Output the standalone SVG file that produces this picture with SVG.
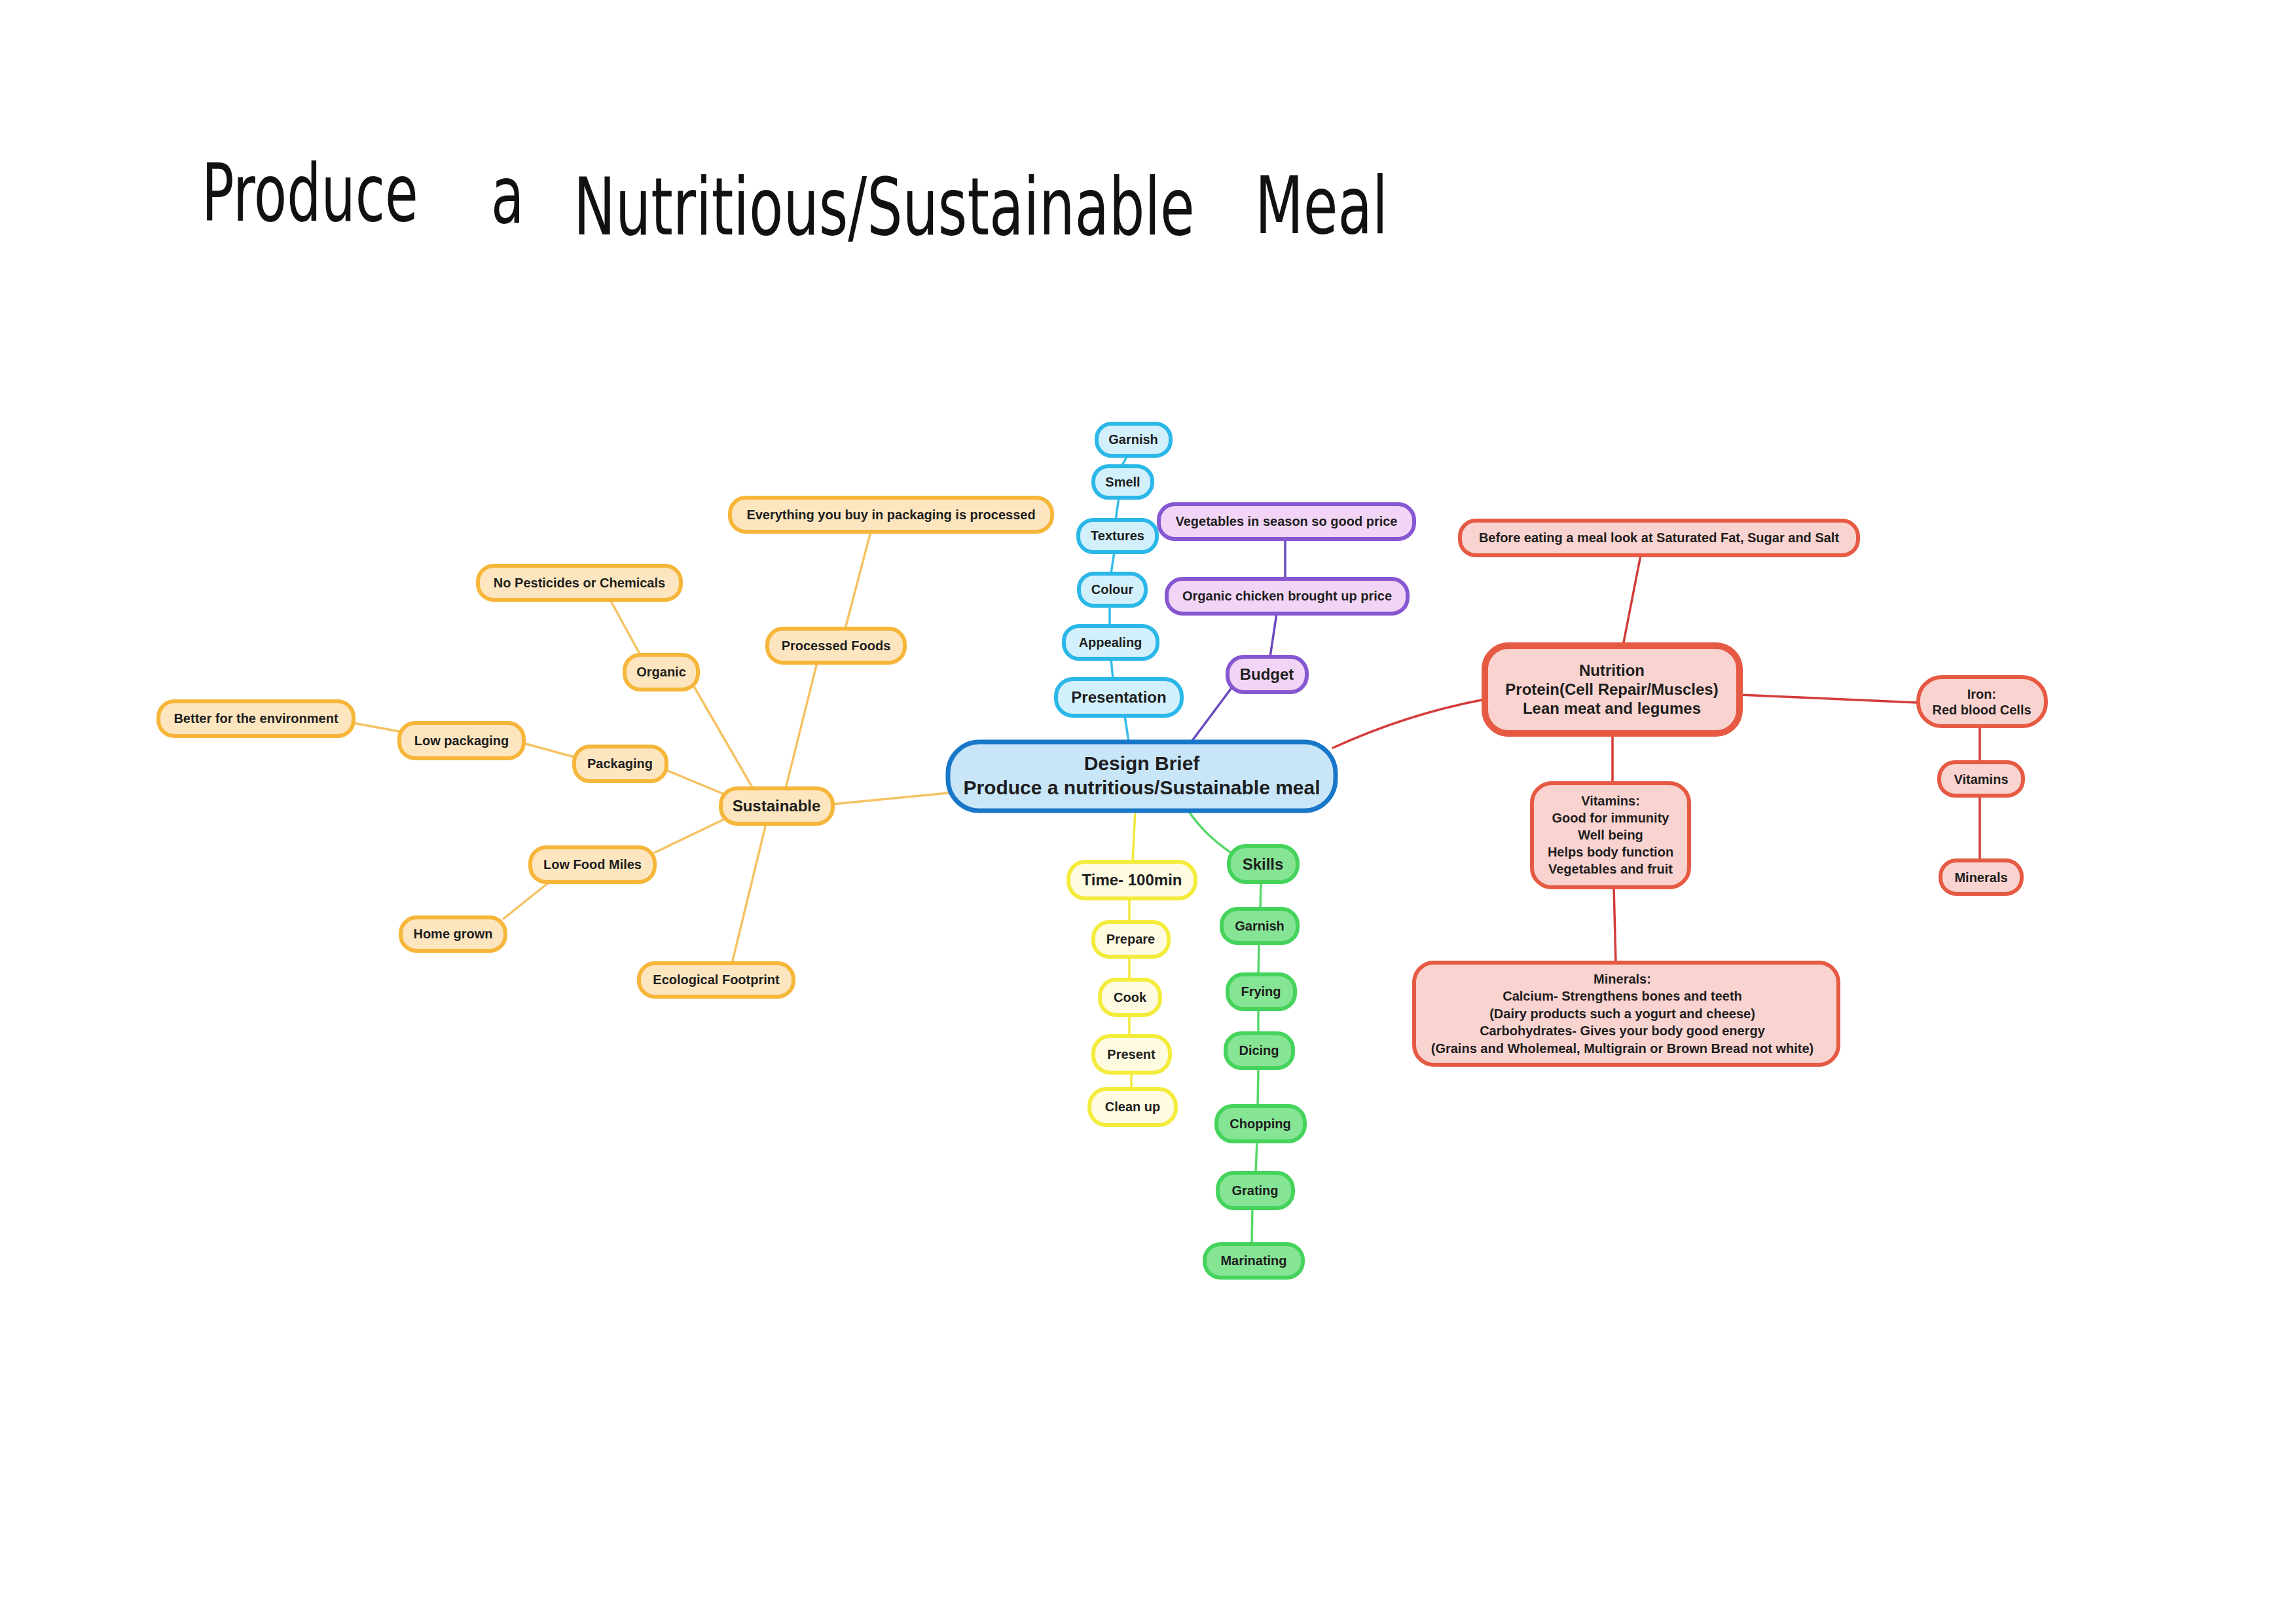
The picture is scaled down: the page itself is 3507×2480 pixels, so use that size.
<svg xmlns="http://www.w3.org/2000/svg" width="3507" height="2480" viewBox="0 0 3507 2480">
<style>
text{font-family:"Liberation Sans",Arial,sans-serif;font-weight:bold;font-size:20px;fill:#1e1e1e;text-anchor:middle}
.big text{font-size:24px}
.title{font-family:"DejaVu Sans Condensed","DejaVu Sans",sans-serif;font-weight:normal;font-size:122px;fill:#111;text-anchor:start}
.o rect{fill:#fde6bf;stroke:#f6b63a;stroke-width:6}
.c rect{fill:#d2f0fb;stroke:#2bb7e8;stroke-width:6}
.p rect{fill:#f2d5f6;stroke:#8757d2;stroke-width:6}
.y rect{fill:#fffbe0;stroke:#f4ec3c;stroke-width:6}
.g rect{fill:#86e495;stroke:#45d35c;stroke-width:6}
.r rect{fill:#f9d3cf;stroke:#e65a44;stroke-width:6}
.ctr rect{fill:#c8e6f8;stroke:#1877c9;stroke-width:7}
#connectors line,#connectors path{fill:none;stroke-width:3.5;stroke-linecap:round}
.eo{stroke:#f5c264}
.ec{stroke:#37bce8}
.ep{stroke:#6a48bf}
.ey{stroke:#f1e83d}
.eg{stroke:#58d86a}
.er{stroke:#d33c3a}
</style>
<rect width="3507" height="2480" fill="#ffffff"/>
<g id="title">
<text class="title" transform="translate(308,337) scale(0.75,1)">Produce</text>
<text class="title" transform="translate(750,340) scale(0.75,1)">a</text>
<text class="title" transform="translate(876,358) scale(0.78,1)">Nutritious/Sustainable</text>
<text class="title" transform="translate(1917,356) scale(0.78,1)">Meal</text>
</g>
<g id="connectors">
<line class="eo" x1="1330" y1="812" x2="1291" y2="960"/>
<line class="eo" x1="1248" y1="1012" x2="1200" y2="1204"/>
<line class="eo" x1="932" y1="916" x2="978" y2="1000"/>
<line class="eo" x1="1061" y1="1050" x2="1150" y2="1204"/>
<line class="eo" x1="539" y1="1104" x2="610" y2="1117"/>
<line class="eo" x1="800" y1="1135" x2="877" y2="1156"/>
<line class="eo" x1="1015" y1="1175" x2="1104" y2="1212"/>
<line class="eo" x1="1104" y1="1252" x2="1000" y2="1302"/>
<line class="eo" x1="839" y1="1347" x2="769" y2="1403"/>
<line class="eo" x1="1170" y1="1258" x2="1118" y2="1471"/>
<line class="eo" x1="1272" y1="1228" x2="1448" y2="1211"/>
<line class="ec" x1="1722" y1="696" x2="1713" y2="712"/>
<line class="ec" x1="1709" y1="760" x2="1704" y2="794"/>
<line class="ec" x1="1702" y1="843" x2="1697" y2="876"/>
<line class="ec" x1="1695" y1="925" x2="1695" y2="956"/>
<line class="ec" x1="1697" y1="1006" x2="1700" y2="1037"/>
<line class="ec" x1="1718" y1="1093" x2="1724" y2="1133"/>
<line class="ep" x1="1963" y1="823" x2="1963" y2="884"/>
<line class="ep" x1="1950" y1="937" x2="1940" y2="1003"/>
<line class="ep" x1="1880" y1="1052" x2="1818" y2="1135"/>
<line class="ey" x1="1734" y1="1238" x2="1730" y2="1316"/>
<line class="ey" x1="1725" y1="1372" x2="1725" y2="1408"/>
<line class="ey" x1="1725" y1="1461" x2="1725" y2="1496"/>
<line class="ey" x1="1725" y1="1550" x2="1725" y2="1582"/>
<line class="ey" x1="1728" y1="1638" x2="1728" y2="1663"/>
<path class="eg" d="M1815,1238 Q1840,1275 1880,1302"/>
<line class="eg" x1="1926" y1="1347" x2="1925" y2="1388"/>
<line class="eg" x1="1923" y1="1440" x2="1922" y2="1488"/>
<line class="eg" x1="1922" y1="1541" x2="1922" y2="1578"/>
<line class="eg" x1="1922" y1="1631" x2="1921" y2="1689"/>
<line class="eg" x1="1920" y1="1743" x2="1918" y2="1791"/>
<line class="eg" x1="1913" y1="1845" x2="1912" y2="1900"/>
<line class="er" x1="2506" y1="848" x2="2479" y2="986"/>
<path class="er" d="M2036,1142 Q2150,1090 2268,1068"/>
<line class="er" x1="2657" y1="1061" x2="2930" y2="1073"/>
<line class="er" x1="2463" y1="1120" x2="2463" y2="1196"/>
<line class="er" x1="2465" y1="1355" x2="2468" y2="1470"/>
<line class="er" x1="3024" y1="1109" x2="3024" y2="1164"/>
<line class="er" x1="3024" y1="1215" x2="3024" y2="1314"/>
</g>
<g id="n-everything" class="o"><rect x="1115" y="760" width="492" height="52" rx="24"/><text x="1361" y="793">Everything you buy in packaging is processed</text></g>
<g id="n-processed" class="o"><rect x="1172" y="960" width="210" height="52" rx="24"/><text x="1277" y="993">Processed Foods</text></g>
<g id="n-pesticides" class="o"><rect x="730" y="864" width="310" height="52" rx="24"/><text x="885" y="897">No Pesticides or Chemicals</text></g>
<g id="n-organic" class="o"><rect x="954" y="1000" width="112" height="53" rx="24"/><text x="1010" y="1033">Organic</text></g>
<g id="n-better" class="o"><rect x="242" y="1071" width="298" height="53" rx="24"/><text x="391" y="1104">Better for the environment</text></g>
<g id="n-lowpack" class="o"><rect x="610" y="1104" width="190" height="54" rx="24"/><text x="705" y="1138">Low packaging</text></g>
<g id="n-packaging" class="o"><rect x="877" y="1140" width="141" height="53" rx="24"/><text x="947" y="1173">Packaging</text></g>
<g id="n-sustainable" class="o big"><rect x="1101" y="1204" width="171" height="54" rx="25"/><text x="1186" y="1239">Sustainable</text></g>
<g id="n-lowfood" class="o"><rect x="810" y="1294" width="190" height="53" rx="24"/><text x="905" y="1327">Low Food Miles</text></g>
<g id="n-home" class="o"><rect x="612" y="1401" width="160" height="51" rx="24"/><text x="692" y="1433">Home grown</text></g>
<g id="n-eco" class="o"><rect x="976" y="1471" width="236" height="51" rx="24"/><text x="1094" y="1503">Ecological Footprint</text></g>
<g id="n-garnish1" class="c"><rect x="1675" y="647" width="113" height="49" rx="23"/><text x="1731" y="678">Garnish</text></g>
<g id="n-smell" class="c"><rect x="1670" y="712" width="90" height="48" rx="23"/><text x="1715" y="743">Smell</text></g>
<g id="n-textures" class="c"><rect x="1647" y="794" width="120" height="49" rx="23"/><text x="1707" y="825">Textures</text></g>
<g id="n-colour" class="c"><rect x="1648" y="876" width="102" height="49" rx="23"/><text x="1699" y="907">Colour</text></g>
<g id="n-appealing" class="c"><rect x="1625" y="956" width="143" height="50" rx="23"/><text x="1696" y="988">Appealing</text></g>
<g id="n-presentation" class="c big"><rect x="1613" y="1037" width="192" height="56" rx="26"/><text x="1709" y="1073">Presentation</text></g>
<g id="n-veg" class="p"><rect x="1770" y="770" width="390" height="53" rx="24"/><text x="1965" y="803">Vegetables in season so good price</text></g>
<g id="n-chicken" class="p"><rect x="1782" y="884" width="368" height="53" rx="24"/><text x="1966" y="917">Organic chicken brought up price</text></g>
<g id="n-budget" class="p big"><rect x="1875" y="1003" width="121" height="54" rx="25"/><text x="1935" y="1038">Budget</text></g>
<g id="n-center" class="ctr"><rect x="1448" y="1133" width="592" height="105" rx="48"/><text x="1744" y="1176" style="font-size:30px">Design Brief</text><text x="1744" y="1213" style="font-size:30px">Produce a nutritious/Sustainable meal</text></g>
<g id="n-time" class="y big"><rect x="1632" y="1316" width="194" height="56" rx="26"/><text x="1729" y="1352">Time- 100min</text></g>
<g id="n-prepare" class="y"><rect x="1670" y="1408" width="115" height="53" rx="24"/><text x="1727" y="1441">Prepare</text></g>
<g id="n-cook" class="y"><rect x="1680" y="1496" width="92" height="54" rx="25"/><text x="1726" y="1530">Cook</text></g>
<g id="n-present" class="y"><rect x="1670" y="1582" width="117" height="56" rx="26"/><text x="1728" y="1617">Present</text></g>
<g id="n-cleanup" class="y"><rect x="1664" y="1663" width="132" height="55" rx="26"/><text x="1730" y="1697">Clean up</text></g>
<g id="n-skills" class="g big"><rect x="1877" y="1292" width="105" height="55" rx="26"/><text x="1929" y="1328">Skills</text></g>
<g id="n-garnish2" class="g"><rect x="1866" y="1388" width="116" height="52" rx="24"/><text x="1924" y="1421">Garnish</text></g>
<g id="n-frying" class="g"><rect x="1875" y="1488" width="103" height="53" rx="24"/><text x="1926" y="1521">Frying</text></g>
<g id="n-dicing" class="g"><rect x="1872" y="1578" width="103" height="53" rx="24"/><text x="1923" y="1611">Dicing</text></g>
<g id="n-chopping" class="g"><rect x="1858" y="1689" width="135" height="54" rx="25"/><text x="1925" y="1723">Chopping</text></g>
<g id="n-grating" class="g"><rect x="1860" y="1791" width="115" height="54" rx="25"/><text x="1917" y="1825">Grating</text></g>
<g id="n-marinating" class="g"><rect x="1840" y="1900" width="150" height="51" rx="24"/><text x="1915" y="1932">Marinating</text></g>
<g id="n-before" class="r"><rect x="2230" y="795" width="608" height="53" rx="24"/><text x="2534" y="828">Before eating a meal look at Saturated Fat, Sugar and Salt</text></g>
<g id="n-nutrition" class="r big"><rect x="2268" y="986" width="389" height="134" rx="36" style="stroke-width:10"/><text x="2462" y="1032">Nutrition</text><text x="2462" y="1061">Protein(Cell Repair/Muscles)</text><text x="2462" y="1090">Lean meat and legumes</text></g>
<g id="n-iron" class="r"><rect x="2930" y="1034" width="195" height="75" rx="36"/><text x="3027" y="1067">Iron:</text><text x="3027" y="1091">Red blood Cells</text></g>
<g id="n-vitamins2" class="r"><rect x="2962" y="1164" width="128" height="51" rx="24"/><text x="3026" y="1197">Vitamins</text></g>
<g id="n-minerals2" class="r"><rect x="2964" y="1314" width="124" height="51" rx="24"/><text x="3026" y="1347">Minerals</text></g>
<g id="n-vitamins" class="r"><rect x="2340" y="1196" width="240" height="159" rx="30"/><text x="2460" y="1230">Vitamins:</text><text x="2460" y="1256">Good for immunity</text><text x="2460" y="1282">Well being</text><text x="2460" y="1308">Helps body function</text><text x="2460" y="1334">Vegetables and fruit</text></g>
<g id="n-minerals" class="r"><rect x="2160" y="1470" width="648" height="156" rx="30"/><text x="2478" y="1502">Minerals:</text><text x="2478" y="1528">Calcium- Strengthens bones and teeth</text><text x="2478" y="1555">(Dairy products such a yogurt and cheese)</text><text x="2478" y="1581">Carbohydrates- Gives your body good energy</text><text x="2478" y="1608">(Grains and Wholemeal, Multigrain or Brown Bread not white)</text></g>
</svg>
